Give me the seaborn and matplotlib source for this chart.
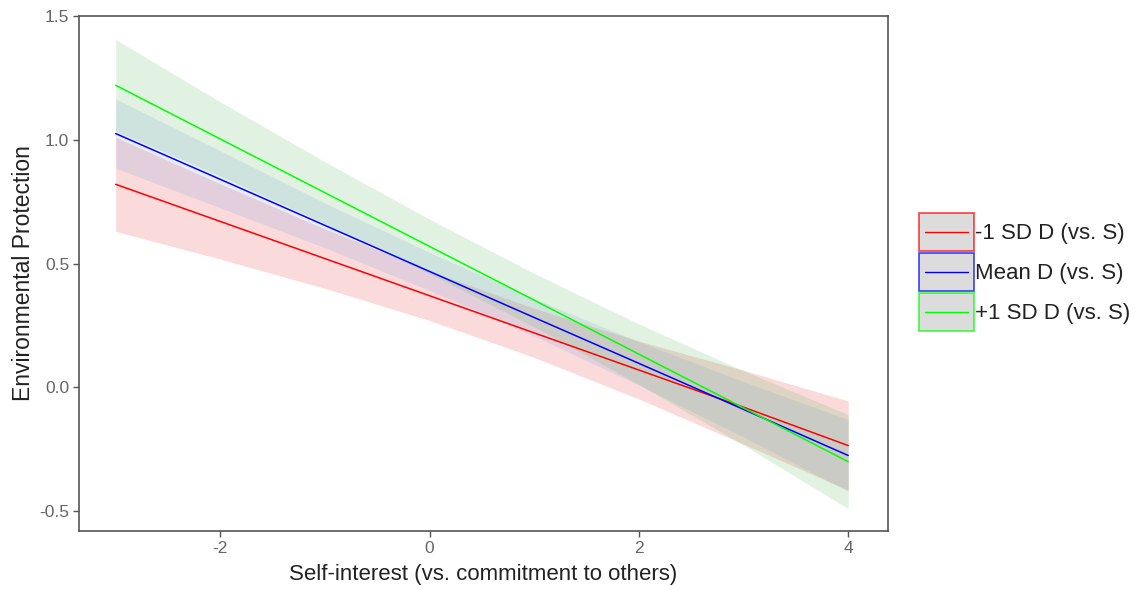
import numpy as np
import pandas as pd
import seaborn as sns
import matplotlib.pyplot as plt
from matplotlib.patches import Rectangle
from matplotlib.lines import Line2D
from matplotlib.legend_handler import HandlerBase

# values
x_vals = [-3, -2, -1, 0, 1, 2, 3, 4]
groups = ['-1 SD D (vs. S)', 'Mean D (vs. S)', '+1 SD D (vs. S)']

fit_low = [0.82, 0.67, 0.52, 0.37, 0.22, 0.07, -0.08, -0.235]
fit_mean = [1.025, 0.84, 0.654, 0.468, 0.282, 0.097, -0.089, -0.275]
fit_high = [1.22, 1.003, 0.786, 0.569, 0.352, 0.134, -0.083, -0.30]

hw_low = [0.19, 0.152, 0.12, 0.10, 0.099, 0.117, 0.149, 0.18]
hw_mean = [0.14, 0.115, 0.09, 0.077, 0.075, 0.088, 0.112, 0.145]
hw_high = [0.185, 0.15, 0.125, 0.11, 0.108, 0.122, 0.15, 0.19]

colors = ['#FF0000', '#0000FF', '#00FF00']
fill_colors = ['#E64646', '#87A7E1', '#6EBE6E']

sns.set_style('white')
plt.rcParams['font.family'] = ['Liberation Sans', 'DejaVu Sans']

df = pd.DataFrame({
    'x': x_vals * 3,
    'y': fit_low + fit_mean + fit_high,
    'group': [g for g in groups for _ in x_vals],
})


# ggplot-like key: grey box with coloured border and a short line inside
class BoxLineHandler(HandlerBase):
    def create_artists(self, legend, orig, xdescent, ydescent, width, height, fontsize, trans):
        col = orig.get_color()
        box = Rectangle((-xdescent, -ydescent), width, height, facecolor='#DCDCDC',
                        edgecolor=col + 'B0', linewidth=1.3, transform=trans)
        inset = width * 0.12
        ymid = -ydescent + height / 2
        ln = Line2D([-xdescent + inset, -xdescent + width - inset], [ymid, ymid],
                    color=col, linewidth=1.0, transform=trans)
        return [box, ln]


fig = plt.figure(figsize=(11.39, 5.9), dpi=100)
ax = fig.add_axes([0.0694, 0.1, 0.7102, 0.873])

for fit, hw, col in zip([fit_low, fit_mean, fit_high], [hw_low, hw_mean, hw_high], fill_colors):
    fit = np.array(fit)
    hw = np.array(hw)
    ax.fill_between(x_vals, fit - hw, fit + hw, color=col, alpha=0.2, linewidth=0)

sns.lineplot(data=df, x='x', y='y', hue='group', palette=colors, linewidth=1.1,
             ax=ax, legend=False)

ax.set_xlim(-3.35, 4.38)
ax.set_ylim(-0.58, 1.5)
ax.set_xticks([-2, 0, 2, 4])
ax.set_xticklabels(['-2', '0', '2', '4'])
ax.set_yticks([-0.5, 0.0, 0.5, 1.0, 1.5])
ax.set_yticklabels(['-0.5', '0.0', '0.5', '1.0', '1.5'])
ax.tick_params(axis='both', direction='out', length=4, width=1, color='#555555',
               labelcolor='#666666', labelsize=12.5, left=True, bottom=True, pad=3)
for s in ax.spines.values():
    s.set_color('#555555')
    s.set_linewidth(1.2)

ax.set_xlabel('Self-interest (vs. commitment to others)', fontsize=16, color='#222222', labelpad=6)
ax.set_ylabel('Environmental Protection', fontsize=16.5, color='#222222', labelpad=3)

handles = [Line2D([], [], color=c) for c in colors]
ax.legend(handles, groups, handler_map={Line2D: BoxLineHandler()},
          loc='center left', bbox_to_anchor=(1.027, 0.503), frameon=False,
          fontsize=16, handlelength=2.5, handleheight=2.25, labelspacing=0.1,
          handletextpad=0.05, borderaxespad=0, labelcolor='#222222')

fig.savefig('out.png', dpi=100)
